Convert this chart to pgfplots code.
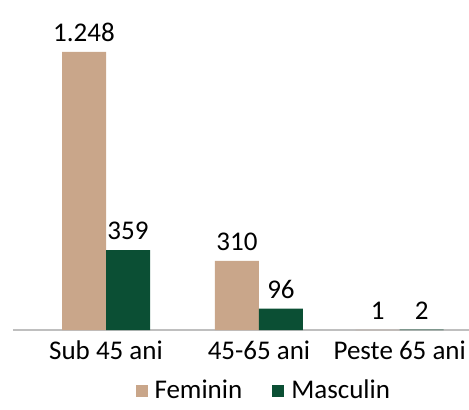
\documentclass[border=0pt]{standalone}
\usepackage{fontspec}
\setmainfont{Carlito}
\usepackage{pgfplots}
\pgfplotsset{compat=1.18}
\definecolor{fem}{HTML}{C9A68A}
\definecolor{masc}{HTML}{0B4F34}
\newcommand{\bigf}{\fontsize{27}{31}\selectfont}
\begin{document}
\begin{tikzpicture}
\useasboundingbox (-13pt,-80pt) rectangle (456pt,330pt);
\begin{axis}[
  at={(0pt,0pt)}, anchor=south west,
  scale only axis, width=456pt, height=330pt,
  xmin=-0.608, xmax=2.373, ymin=0, ymax=1481,
  ybar=0pt, bar width=44pt,
  axis x line=bottom, axis y line=none,
  axis line style={-, draw=black!25, line width=1.2pt},
  xtick={0,1,1.92}, xticklabels={Sub 45 ani, 45-65 ani, Peste 65 ani},
  major tick length=0pt,
  ticklabel style={font=\bigf},
  xticklabel style={inner sep=0pt, anchor=north, yshift=-11pt},
  nodes near coords={\pgfmathprintnumber[1000 sep={.},assume math mode=true]{\pgfplotspointmeta}},
  nodes near coords style={font=\bigf, inner sep=0pt, anchor=south, yshift=10pt, text=black},
  legend columns=2,
  legend style={at={(0.55,-0.145)}, anchor=north, draw=none, font=\bigf,
    inner sep=0pt,
    /tikz/every odd column/.append style={column sep=5pt},
    /tikz/every even column/.append style={column sep=28pt}},
  legend image code/.code={\fill[#1] (0pt,-7pt) rectangle (12pt,5pt);},
]
\addplot[fill=fem, draw=none] coordinates {(0,1248) (1,310) (1.92,1)};
\addplot[fill=masc, draw=none] coordinates {(0,359) (1,96) (1.92,2)};
\legend{Feminin, Masculin}
\end{axis}
\end{tikzpicture}
\end{document}
